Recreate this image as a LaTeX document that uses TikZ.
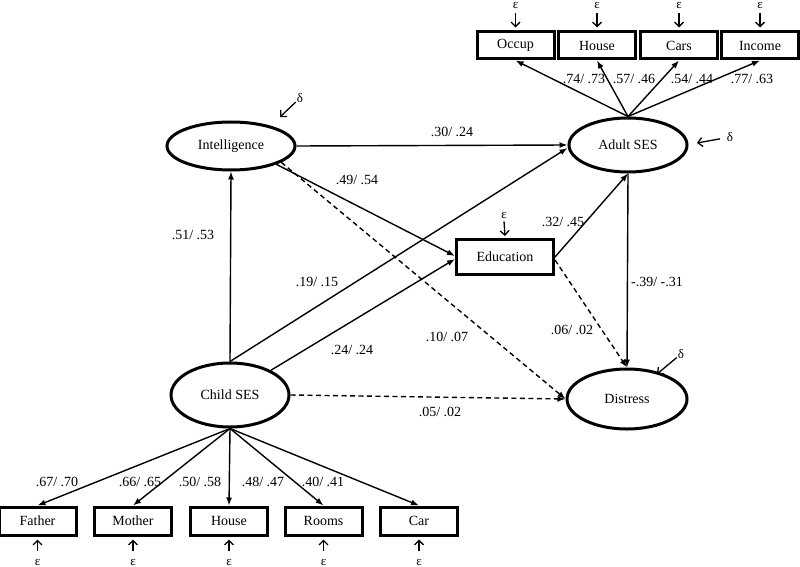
\documentclass[tikz,border=0pt]{standalone}
\usepackage{fontspec}
\setmainfont{Liberation Serif}
\usetikzlibrary{arrows.meta,shapes.geometric}
\begin{document}
\begin{tikzpicture}[x=1pt,y=-1pt,
  lat/.style={ellipse,draw,line width=3pt,inner sep=0pt,font=\fontsize{14}{16}\selectfont},
  obs/.style={rectangle,draw,line width=3pt,inner sep=0pt,minimum width=77pt,minimum height=27pt,font=\fontsize{14}{16}\selectfont},
  conn/.style={line width=1.4pt,-{Latex[length=8pt,width=6pt]}},
  dconn/.style={conn,dash pattern=on 5pt off 3.5pt},
  err/.style={line width=1.3pt,-{Straight Barb[length=4.5pt,width=9pt]}},
  lbl/.style={font=\fontsize{14}{16}\selectfont,inner sep=0pt},
  greek/.style={font=\fontsize{13}{14}\selectfont,inner sep=1pt}
]
\useasboundingbox (0,0) rectangle (800,567);

% latent variables
\node[lat,minimum width=128pt,minimum height=48pt] (intel) at (231,146) {Intelligence};
\node[lat,minimum width=118pt,minimum height=54pt] (adult) at (628,145) {Adult SES};
\node[lat,minimum width=118pt,minimum height=64pt] (child) at (230,395) {Child SES};
\node[lat,minimum width=120pt,minimum height=60pt] (distress) at (627,399) {Distress};
\node[obs,minimum width=97pt,minimum height=35pt] (edu) at (505,257) {Education};

% top indicators
\node[obs] (occup) at (515.5,45.5) {Occup};
\node[obs] (ahouse) at (597,45.5) {House};
\node[obs] (cars) at (679,45.5) {Cars};
\node[obs] (income) at (760,45.5) {Income};

% bottom indicators
\node[obs,minimum height=28pt] (father) at (37.5,521) {Father};
\node[obs,minimum height=28pt] (mother) at (133,521) {Mother};
\node[obs,minimum height=28pt] (chouse) at (229,521) {House};
\node[obs,minimum height=28pt] (rooms) at (323.5,521) {Rooms};
\node[obs,minimum height=28pt] (car) at (419,521) {Car};

% error terms top
\foreach \b/\x in {occup/515.5,ahouse/597,cars/679,income/760}{
  \node[greek] (e\b) at (\x,6) {ε};
  \draw[err] ([yshift=-3pt]e\b.south) -- ([yshift=3pt]\b.north);
}
% error terms bottom
\foreach \b/\x in {father/37.5,mother/133,chouse/229,rooms/323.5,car/419}{
  \node[greek] (e\b) at (\x,562) {ε};
  \draw[err] ([yshift=7pt]e\b.north) -- ([yshift=-3pt]\b.south);
}
% education error
\node[greek] (eedu) at (504,215) {ε};
\draw[err] ([yshift=-2pt]eedu.south) -- ([yshift=2pt]edu.north);

% disturbances
\node[greek] (dintel) at (300,98) {δ};
\coordinate (dintelend) at (280,117);
\draw[err] (dintel) -- (dintelend);
\node[greek] (dadult) at (730,137) {δ};
\coordinate (dadultend) at (697,143);
\draw[err,shorten <=6pt] (dadult) -- (dadultend);
\node[greek] (ddist) at (681,354) {δ};
\coordinate (ddistend) at (657,374);
\draw[err] (ddist) -- (ddistend);

% structural paths
\draw[conn] (intel.east) -- (adult.west);
\draw[conn] (intel.-22) -- ([yshift=1pt]edu.west);
\draw[dconn] (intel.-18) -- (distress.west);
\draw[conn] (child.north) -- (intel.south);
\draw[conn] (child.north) -- ([yshift=-3pt]adult.west);
\draw[conn] (child) -- ([yshift=-2pt]edu.west);
\draw[dconn] (child.east) -- (distress.west);
\draw[conn] (edu.east) -- (adult.south);
\draw[dconn] ([yshift=-3pt]edu.east) -- (distress.north);
\draw[conn] (adult.south) -- (distress.north);

% loadings
\foreach \n in {occup,ahouse,cars,income} \draw[conn] (adult.north) -- (\n.south);
\foreach \n in {father,mother,chouse,rooms,car} \draw[conn] (child.south) -- (\n.north);

% labels
\node[lbl] (l1) at (452,132) {.30/ .24};
\node[lbl] (l2) at (357,180) {.49/ .54};
\node[lbl] (l3) at (193,235) {.51/ .53};
\node[lbl] (l4) at (317,282) {.19/ .15};
\node[lbl] (l5) at (352,350) {.24/ .24};
\node[lbl] (l6) at (447,337) {.10/ .07};
\node[lbl] (l7) at (440,412) {.05/ .02};
\node[lbl] (l8) at (563,222) {.32/ .45};
\node[lbl] (l9) at (572,330) {.06/ .02};
\node[lbl] (l10) at (657,282) {-.39/ -.31};
\node[lbl] (t1) at (584,79) {.74/ .73};
\node[lbl] (t2) at (634,79) {.57/ .46};
\node[lbl] (t3) at (692,79) {.54/ .44};
\node[lbl] (t4) at (752,79) {.77/ .63};
\node[lbl] (b1) at (57,482) {.67/ .70};
\node[lbl] (b2) at (140,482) {.66/ .65};
\node[lbl] (b3) at (200,482) {.50/ .58};
\node[lbl] (b4) at (263,482) {.48/ .47};
\node[lbl] (b5) at (323,482) {.40/ .41};
\end{tikzpicture}
\end{document}
